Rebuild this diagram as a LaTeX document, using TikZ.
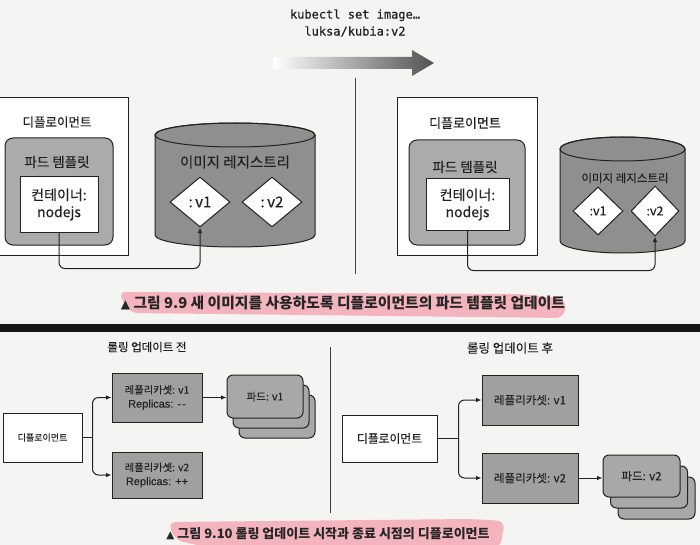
\documentclass[tikz,border=0pt]{standalone}
\usepackage{fontspec}
\setmainfont{Carlito}
\newfontfamily\kr[FakeBold=0.3]{Noto Sans CJK KR}
\newfontfamily\krb{Noto Sans CJK KR}
\newfontfamily\arl[FakeBold=0.3]{Liberation Sans}
\newfontfamily\monof[FakeBold=0.6]{DejaVu Sans Mono}
\newfontfamily\symf{DejaVu Sans}
\usetikzlibrary{shapes.geometric,arrows.meta,calc}
\definecolor{paper}{HTML}{F4F4F2}
\definecolor{tplgray}{HTML}{ABABAB}
\definecolor{cylgray}{HTML}{8F8F8F}
\definecolor{rsgray}{HTML}{A0A0A0}
\definecolor{podgray}{HTML}{A8A8A8}
\definecolor{ink}{HTML}{222222}
\definecolor{hl}{HTML}{F4B4BE}
\tikzset{
  lbl/.style={text=ink, inner sep=0pt, font=\kr\fontsize{12.5}{14}\selectfont},
  deploybox/.style={draw=ink, line width=1pt, fill=white, minimum width=140pt, minimum height=157pt, inner sep=0pt},
  tplbox/.style={draw=ink, line width=1pt, fill=tplgray, rounded corners=8pt, inner sep=0pt},
  contbox/.style={draw=ink, line width=1pt, fill=white, align=center, text=ink, inner sep=0pt, font=\kr\fontsize{14}{17}\selectfont},
  tag/.style={diamond, draw=ink, line width=1pt, fill=white, inner sep=0pt, text=ink, font=\kr\fontsize{15}{17}\selectfont},
  cyl/.style={draw=ink, line width=1pt, fill=cylgray},
  conn/.style={draw=ink, line width=1pt, rounded corners=6pt, -{Latex[length=5.5pt,width=4.5pt]}},
  rsbox/.style={draw=ink, line width=1pt, fill=rsgray, align=center, text=ink, inner sep=0pt, font=\kr\fontsize{10.3}{14}\selectfont},
  podbox/.style={draw=ink, line width=1pt, fill=podgray, rounded corners=6pt, inner sep=0pt, text=ink, font=\kr\fontsize{10.5}{13}\selectfont},
  depsmall/.style={draw=ink, line width=1pt, fill=white, inner sep=0pt, text=ink},
  divider/.style={draw=black!75, line width=1pt},
  caption/.style={text=black!85, inner sep=0pt, font=\krb\bfseries\fontsize{14.8}{16}\selectfont}
}
\begin{document}
\begin{tikzpicture}[x=1pt,y=-1pt]
\useasboundingbox (0,0) rectangle (700,545);
\clip (0,0) rectangle (700,545);
\fill[paper] (0,0) rectangle (700,545);
\fill[black!92] (0,324) rectangle (700,332);

% highlights
\fill[hl, rounded corners=8pt] (118,292) -- (520,294) -- (566,299) -- (564,318) -- (130,313) -- cycle;
\fill[hl, rounded corners=8pt] (168,522) -- (470,519) -- (505,521) -- (500,548) -- (210,548) -- (175,540) -- cycle;

% ===== Figure 9.9 =====
\node[text=ink, inner sep=0pt, align=center, font=\monof\fontsize{12}{17}\selectfont] (cmd) at (355,23) {kubectl set image…\\luksa/kubia:v2};
\shade[left color=white, right color=black!68] (273,57) -- (412,57) -- (412,50) -- (434,63) -- (412,76) -- (412,69) -- (273,69) -- cycle;
\coordinate (divtop) at (355,78);
\coordinate (divbot) at (355,274);
\draw[divider] (divtop) -- (divbot);

% left panel
\node[deploybox] (depA) at (58,176.5) {};
\node[lbl] (depAl) at (57,122) {디플로이먼트};
\node[tplbox, minimum width=108pt, minimum height=107pt] (tplA) at (59,191.5) {};
\node[lbl, font=\kr\fontsize{13.5}{15}\selectfont] (tplAl) at (57,162) {파드 템플릿};
\node[contbox, minimum width=78pt, minimum height=55pt] (contA) at (59,204.5) {컨테이너:\\nodejs};
\path[cyl] (155,135) -- (155,235) arc (180:0:80 and 12) -- (315,135) arc (0:-180:80 and 12) -- cycle;
\draw[draw=ink, line width=1pt] (235,135) ellipse (80 and 12);
\node[lbl, font=\kr\fontsize{14.5}{16}\selectfont] (regA) at (235,162) {이미지 레지스트리};
\node[tag, minimum width=60pt, minimum height=50pt] (v1A) at (200,202) {:\,v1};
\node[tag, minimum width=60pt, minimum height=50pt] (v2A) at (272,202) {:\,v2};
\draw[conn] (contA.south) -- ++(0,36) -| (v1A.south);

% right panel
\node[deploybox] (depB) at (467,176.5) {};
\node[lbl, font=\kr\fontsize{13}{15}\selectfont] (depBl) at (465,123) {디플로이먼트};
\node[tplbox, minimum width=116pt, minimum height=105pt] (tplB) at (467,192.5) {};
\node[lbl, font=\kr\fontsize{13.5}{15}\selectfont] (tplBl) at (465,167) {파드 템플릿};
\node[contbox, minimum width=83pt, minimum height=51pt] (contB) at (467.5,204.5) {컨테이너:\\nodejs};
\path[cyl] (560,149) -- (560,241) arc (180:0:62.5 and 12) -- (685,149) arc (0:-180:62.5 and 12) -- cycle;
\draw[draw=ink, line width=1pt] (622.5,149) ellipse (62.5 and 12);
\node[lbl, font=\kr\fontsize{11.5}{14}\selectfont] (regB) at (625,178) {이미지 레지스트리};
\node[tag, minimum width=50pt, minimum height=48pt, font=\kr\fontsize{12.5}{14}\selectfont] (v1B) at (598,211) {:v1};
\node[tag, minimum width=48pt, minimum height=50pt, font=\kr\fontsize{12.5}{14}\selectfont] (v2B) at (655,211) {:v2};
\draw[conn] (contB.south) -- ++(0,40) -| (v2B.south);

\node[caption] (cap1) at (343,303) {{\symf\fontsize{12}{14}\selectfont ▲}\ 그림 9.9 새 이미지를 사용하도록 디플로이먼트의 파드 템플릿 업데이트};

% ===== Figure 9.10 =====
\node[lbl, font=\kr\fontsize{11.5}{13}\selectfont] (beforeT) at (147,347) {롤링 업데이트 전};
\node[depsmall, minimum width=79pt, minimum height=49pt, font=\kr\fontsize{9}{10}\selectfont] (depC) at (42.5,437.5) {디플로이먼트};
\node[rsbox, minimum width=90pt, minimum height=49pt] (rs1C) at (157,397.5) {레플리카셋: v1\\{\arl\fontsize{11}{14}\selectfont Replicas: -{}\kern1pt-{}}};
\node[rsbox, minimum width=90pt, minimum height=46pt] (rs2C) at (157,475) {레플리카셋: v2\\{\arl\fontsize{11}{14}\selectfont Replicas: ++}};
\node[podbox, minimum width=76pt, minimum height=43pt] (p1Cc) at (277,416.5) {};
\node[podbox, minimum width=76pt, minimum height=43pt] (p1Cb) at (271,406.5) {};
\node[podbox, minimum width=76pt, minimum height=43pt] (p1Ca) at (265,396.5) {파드: v1};
\draw[draw=ink, line width=1pt] (depC.east) -- ++(10,0) coordinate (splitC);
\draw[conn] (splitC) |- (rs1C.west);
\draw[conn] (splitC) |- (rs2C.west);
\draw[conn] (rs1C.east) -- (rs1C.east -| p1Ca.west);

\coordinate (div2top) at (330,347);
\coordinate (div2bot) at (330,513);
\draw[divider] (div2top) -- (div2bot);

\node[lbl, font=\kr\fontsize{12.5}{14}\selectfont] (afterT) at (510,348) {롤링 업데이트 후};
\node[depsmall, minimum width=95pt, minimum height=47pt, font=\kr\fontsize{11.8}{13}\selectfont] (depD) at (389.5,438.5) {디플로이먼트};
\node[rsbox, minimum width=96pt, minimum height=50pt, font=\kr\fontsize{11.5}{13}\selectfont] (rs1D) at (530,400) {레플리카셋: v1};
\node[rsbox, minimum width=96pt, minimum height=50pt, font=\kr\fontsize{11.5}{13}\selectfont] (rs2D) at (530,478) {레플리카셋: v2};
\node[podbox, minimum width=77pt, minimum height=42pt] (p2Dc) at (656.5,498) {};
\node[podbox, minimum width=77pt, minimum height=42pt] (p2Db) at (649,487) {};
\node[podbox, minimum width=77pt, minimum height=42pt, font=\kr\fontsize{11.5}{13}\selectfont] (p2Da) at (641.5,476) {파드: v2};
\draw[draw=ink, line width=1pt] (depD.east) -- ++(21,0) coordinate (splitD);
\draw[conn] (splitD) |- (rs1D.west);
\draw[conn] (splitD) |- (rs2D.west);
\draw[conn] (rs2D.east) -- (rs2D.east -| p2Da.west);

\node[caption, font=\krb\bfseries\fontsize{13}{15}\selectfont] (cap2) at (328,534) {{\symf\fontsize{10.5}{13}\selectfont ▲}\ 그림 9.10 롤링 업데이트 시작과 종료 시점의 디플로이먼트};
\end{tikzpicture}
\end{document}
